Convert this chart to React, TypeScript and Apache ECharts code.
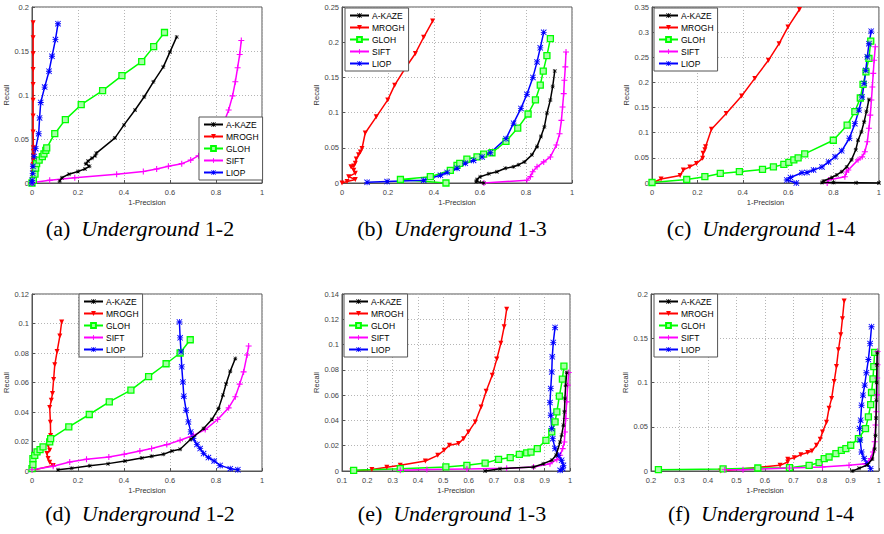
import React, { useEffect, useRef } from 'react';
import * as echarts from 'echarts';

// ---------- series names / colours ----------
const NAMES = ['A-KAZE', 'MROGH', 'GLOH', 'SIFT', 'LIOP'];
const COLORS = ['#000000', '#ff0000', '#00ff00', '#ff00ff', '#0000ff'];

// ---------- (a) Underground 1-2 ----------
const aAkaze = [[0.12,0.002],[0.13,0.006],[0.16,0.010],[0.20,0.013],[0.23,0.016],[0.25,0.019],[0.234,0.022],[0.244,0.025],[0.26,0.028],[0.275,0.031],[0.28,0.034],[0.36,0.051],[0.40,0.066],[0.448,0.083],[0.488,0.098],[0.528,0.115],[0.571,0.132],[0.600,0.149],[0.629,0.166]];
const aMrogh = [[0.002,0],[0.003,0.004],[0.004,0.008],[0.004,0.012],[0.005,0.016],[0.005,0.021],[0.006,0.026],[0.006,0.031],[0.006,0.036],[0.006,0.040],[0.005,0.058],[0.005,0.076],[0.005,0.094],[0.005,0.112],[0.005,0.129],[0.005,0.147],[0.005,0.165],[0.005,0.182]];
const aGloh = [[0,0],[0.006,0.003],[0.013,0.010],[0.016,0.017],[0.02,0.022],[0.031,0.026],[0.045,0.030],[0.052,0.033],[0.060,0.037],[0.064,0.040],[0.099,0.056],[0.145,0.072],[0.214,0.089],[0.307,0.105],[0.391,0.122],[0.477,0.138],[0.529,0.155],[0.576,0.171]];
const aSift = [[0,0],[0.004,0.0005],[0.077,0.003],[0.186,0.006],[0.368,0.010],[0.484,0.013],[0.542,0.016],[0.593,0.019],[0.651,0.022],[0.69,0.026],[0.724,0.031],[0.767,0.039],[0.804,0.053],[0.833,0.068],[0.855,0.083],[0.872,0.099],[0.884,0.115],[0.894,0.131],[0.903,0.146],[0.91,0.162]];
const aLiop = [[0,0],[0.001,0.003],[0.003,0.011],[0.004,0.019],[0.009,0.030],[0.016,0.039],[0.029,0.056],[0.033,0.074],[0.038,0.0915],[0.055,0.109],[0.074,0.127],[0.087,0.144],[0.102,0.163],[0.113,0.181]];

// ---------- (b) Underground 1-3 ----------
const bAkaze = [[0.616,0],[0.583,0.002],[0.587,0.005],[0.601,0.009],[0.638,0.013],[0.674,0.016],[0.710,0.021],[0.746,0.023],[0.768,0.026],[0.793,0.030],[0.826,0.040],[0.848,0.052],[0.865,0.066],[0.880,0.080],[0.891,0.099],[0.906,0.118],[0.916,0.137],[0.925,0.159]];
const bMrogh = [[0,0],[0.022,0.002],[0.058,0.005],[0.029,0.009],[0.058,0.014],[0.051,0.018],[0.039,0.023],[0.051,0.024],[0.058,0.028],[0.062,0.034],[0.072,0.040],[0.080,0.044],[0.087,0.049],[0.101,0.071],[0.149,0.094],[0.199,0.118],[0.229,0.139],[0.275,0.163],[0.319,0.184],[0.355,0.207],[0.394,0.230]];
const bGloh = [[0.452,0],[0.254,0.005],[0.384,0.009],[0.471,0.018],[0.5,0.025],[0.512,0.028],[0.543,0.034],[0.587,0.037],[0.616,0.041],[0.652,0.043],[0.713,0.059],[0.764,0.078],[0.809,0.098],[0.841,0.118],[0.862,0.139],[0.875,0.159],[0.891,0.181],[0.906,0.205]];
const bSift = [[0.617,0],[0.804,0.004],[0.819,0.009],[0.829,0.016],[0.848,0.023],[0.877,0.030],[0.906,0.037],[0.932,0.054],[0.946,0.070],[0.954,0.089],[0.959,0.108],[0.964,0.127],[0.967,0.146],[0.971,0.165],[0.974,0.186]];
const bLiop = [[0.109,0.001],[0.196,0.002],[0.355,0.004],[0.428,0.011],[0.457,0.015],[0.500,0.021],[0.536,0.028],[0.572,0.032],[0.609,0.037],[0.645,0.043],[0.713,0.063],[0.746,0.085],[0.778,0.106],[0.804,0.126],[0.830,0.150],[0.848,0.172],[0.862,0.192],[0.877,0.214]];

// ---------- (c) Underground 1-4 ----------
const cAkaze = [[1,0],[0.9,0.0005],[0.8,0.001],[0.749,0.001],[0.756,0.004],[0.792,0.011],[0.814,0.016],[0.836,0.0225],[0.858,0.032],[0.879,0.046],[0.898,0.066],[0.908,0.085],[0.923,0.102],[0.935,0.122],[0.945,0.142],[0.956,0.166]];
const cMrogh = [[0,0],[0.04,0.008],[0.124,0.015],[0.138,0.026],[0.167,0.032],[0.196,0.039],[0.223,0.049],[0.225,0.059],[0.233,0.066],[0.236,0.072],[0.262,0.107],[0.327,0.138],[0.395,0.173],[0.453,0.208],[0.513,0.244],[0.560,0.277],[0.599,0.310],[0.650,0.345]];
const cGloh = [[0,0.001],[0.153,0.007],[0.233,0.0125],[0.301,0.019],[0.385,0.0225],[0.487,0.027],[0.535,0.032],[0.581,0.037],[0.603,0.041],[0.625,0.046],[0.644,0.050],[0.673,0.058],[0.799,0.085],[0.860,0.115],[0.894,0.142],[0.918,0.169],[0.930,0.196],[0.943,0.221],[0.956,0.248],[0.964,0.282]];
const cSift = [[0.772,0],[0.778,0.006],[0.850,0.0125],[0.857,0.022],[0.865,0.026],[0.908,0.046],[0.926,0.052],[0.938,0.062],[0.949,0.082],[0.956,0.109],[0.962,0.135],[0.967,0.165],[0.971,0.191],[0.975,0.218],[0.979,0.244],[0.984,0.271]];
const cLiop = [[0.636,0],[0.594,0.006],[0.610,0.011],[0.661,0.0205],[0.683,0.021],[0.712,0.026],[0.749,0.032],[0.778,0.042],[0.807,0.052],[0.836,0.064],[0.870,0.089],[0.894,0.118],[0.912,0.145],[0.926,0.171],[0.935,0.198],[0.942,0.224],[0.949,0.251],[0.956,0.277],[0.966,0.302]];

// ---------- (d) Underground 1-2 ----------
const dAkaze = [[0.113,0.0009],[0.172,0.0018],[0.251,0.0036],[0.331,0.0050],[0.404,0.0068],[0.477,0.0088],[0.520,0.0100],[0.571,0.0113],[0.608,0.0136],[0.644,0.0147],[0.690,0.0215],[0.746,0.0288],[0.782,0.0349],[0.811,0.0423],[0.830,0.0514],[0.844,0.0591],[0.862,0.0677],[0.884,0.0763]];
const dMrogh = [[0.004,0.0005],[0.092,0.0038],[0.077,0.006],[0.070,0.0084],[0.065,0.0118],[0.077,0.014],[0.070,0.0174],[0.081,0.024],[0.080,0.033],[0.077,0.043],[0.084,0.048],[0.089,0.0525],[0.094,0.062],[0.099,0.072],[0.109,0.081],[0.121,0.0915],[0.129,0.101]];
const dGloh = [[0,0.0016],[0.004,0.0043],[0.004,0.0084],[0.012,0.0106],[0.022,0.0129],[0.035,0.0145],[0.048,0.0163],[0.077,0.0197],[0.081,0.022],[0.160,0.0299],[0.249,0.0383],[0.336,0.0469],[0.430,0.0548],[0.507,0.064],[0.583,0.0727],[0.644,0.080],[0.688,0.089]];
const dSift = [[0,0.0009],[0.092,0.0032],[0.164,0.0061],[0.237,0.0079],[0.334,0.0095],[0.401,0.0113],[0.469,0.0136],[0.520,0.0152],[0.586,0.0179],[0.644,0.0208],[0.702,0.0242],[0.753,0.0281],[0.807,0.0349],[0.855,0.0428],[0.884,0.0503],[0.903,0.0589],[0.920,0.0672],[0.935,0.0786],[0.942,0.0847]];
const dLiop = [[0.895,0.0009],[0.862,0.0016],[0.818,0.0038],[0.792,0.0068],[0.767,0.0091],[0.746,0.0118],[0.731,0.0152],[0.717,0.0179],[0.702,0.022],[0.690,0.0265],[0.680,0.0333],[0.670,0.0412],[0.660,0.0507],[0.656,0.0604],[0.651,0.0706],[0.648,0.0808],[0.644,0.0903],[0.641,0.101]];

// ---------- (e) Underground 1-3 ----------
const eAkaze = [[0.665,0],[0.724,0.0018],[0.856,0.0032],[0.895,0.0058],[0.928,0.0085],[0.945,0.0124],[0.961,0.023],[0.967,0.0283],[0.974,0.0362],[0.978,0.0468],[0.980,0.0573],[0.983,0.0679],[0.987,0.0779]];
const eMrogh = [[0.139,0],[0.218,0.0011],[0.277,0.0029],[0.330,0.0045],[0.429,0.0079],[0.478,0.0124],[0.503,0.0164],[0.524,0.0203],[0.560,0.0217],[0.580,0.0256],[0.599,0.0309],[0.626,0.0388],[0.649,0.0507],[0.669,0.0631],[0.693,0.0758],[0.711,0.0885],[0.727,0.101],[0.740,0.114],[0.750,0.128]];
const eGloh = [[0.146,0.0005],[0.330,0.0018],[0.510,0.0032],[0.593,0.0045],[0.665,0.0063],[0.718,0.0092],[0.764,0.0106],[0.800,0.0132],[0.829,0.0143],[0.846,0.015],[0.871,0.0177],[0.905,0.0243],[0.928,0.0309],[0.941,0.0388],[0.948,0.0468],[0.958,0.0592],[0.970,0.0726],[0.976,0.0829]];
const eSift = [[0.330,0.0005],[0.435,0.0011],[0.593,0.0016],[0.750,0.0021],[0.856,0.0032],[0.921,0.0058],[0.948,0.009],[0.961,0.0124],[0.971,0.0177],[0.978,0.023],[0.980,0.0309],[0.983,0.0415],[0.987,0.0547],[0.991,0.0679],[0.995,0.0779]];
const eLiop = [[0.961,0.0005],[0.971,0.0018],[0.974,0.0045],[0.967,0.0085],[0.954,0.0124],[0.941,0.0177],[0.932,0.0256],[0.928,0.0335],[0.924,0.0441],[0.921,0.0541],[0.924,0.0652],[0.928,0.0784],[0.930,0.0903],[0.934,0.1017],[0.941,0.1136]];

// ---------- (f) Underground 1-4 ----------
const fAkaze = [[0.907,0],[0.930,0.003],[0.959,0.0068],[0.977,0.0136],[0.985,0.025],[0.988,0.04],[0.990,0.06],[0.991,0.08],[0.992,0.1],[0.993,0.12],[0.994,0.134]];
const fMrogh = [[0.445,0],[0.653,0.0064],[0.680,0.0102],[0.680,0.0132],[0.703,0.015],[0.726,0.0185],[0.750,0.0208],[0.765,0.0226],[0.781,0.029],[0.794,0.036],[0.802,0.044],[0.816,0.055],[0.825,0.071],[0.834,0.082],[0.843,0.101],[0.851,0.118],[0.858,0.137],[0.866,0.154],[0.872,0.172],[0.878,0.192]];
const fGloh = [[0.226,0.0015],[0.453,0.0023],[0.575,0.0034],[0.686,0.0038],[0.755,0.0064],[0.790,0.0094],[0.808,0.014],[0.825,0.0158],[0.849,0.0196],[0.868,0.0234],[0.884,0.0253],[0.901,0.0291],[0.928,0.0366],[0.953,0.0479],[0.963,0.0611],[0.971,0.0751],[0.974,0.0887],[0.979,0.104],[0.982,0.118],[0.985,0.134]];
const fSift = [[0.459,0.0015],[0.523,0.0015],[0.686,0.0034],[0.802,0.0045],[0.895,0.0064],[0.953,0.0083],[0.971,0.014],[0.979,0.0215],[0.985,0.033],[0.988,0.052],[0.991,0.067],[0.993,0.086],[0.994,0.105],[0.995,0.120],[0.995,0.135]];
const fLiop = [[0.971,0.0026],[0.959,0.0083],[0.948,0.014],[0.939,0.0215],[0.934,0.035],[0.932,0.0479],[0.936,0.0574],[0.939,0.0743],[0.944,0.0857],[0.950,0.097],[0.956,0.111],[0.963,0.126],[0.969,0.144],[0.974,0.163]];

// ---------- axis ranges & captions ----------
const PANEL_IDS = ['(a)', '(b)', '(c)', '(d)', '(e)', '(f)'];
const PANEL_PAIRS = ['1-2', '1-3', '1-4', '1-2', '1-3', '1-4'];
const X_MIN = [0, 0, 0, 0, 0.1, 0.2];
const X_INT = [0.2, 0.2, 0.2, 0.2, 0.1, 0.1];
const Y_MAX = [0.2, 0.25, 0.35, 0.12, 0.14, 0.2];
const Y_INT = [0.05, 0.05, 0.05, 0.02, 0.02, 0.05];
const PANEL_DATA = [
  [aAkaze, aMrogh, aGloh, aSift, aLiop],
  [bAkaze, bMrogh, bGloh, bSift, bLiop],
  [cAkaze, cMrogh, cGloh, cSift, cLiop],
  [dAkaze, dMrogh, dGloh, dSift, dLiop],
  [eAkaze, eMrogh, eGloh, eSift, eLiop],
  [fAkaze, fMrogh, fGloh, fSift, fLiop],
];

// ---------- layout (pixels) ----------
const GRIDS = [
  { left: 32, top: 7, width: 230, height: 176 },
  { left: 342, top: 7, width: 230, height: 176 },
  { left: 652, top: 7, width: 229, height: 176 },
  { left: 32, top: 294, width: 230, height: 177 },
  { left: 342, top: 294, width: 228, height: 177 },
  { left: 651, top: 294, width: 229, height: 177 },
];
const LEGEND_POS = [
  { left: 199, top: 117 },
  { left: 345, top: 8 },
  { left: 654, top: 8 },
  { left: 79, top: 294 },
  { left: 344, top: 294 },
  { left: 654, top: 294 },
];
const CAPTION_POS = [
  { x: 140, y: 228 }, { x: 452, y: 228 }, { x: 761, y: 228 },
  { x: 140, y: 513 }, { x: 452, y: 513 }, { x: 761, y: 513 },
];

const SYM_STAR = 'path://M4.3,0H5.7V10H4.3Z M0,4.3H10V5.7H0Z M1,0L10,9L9,10L0,1Z M9,0L10,1L1,10L0,9Z';
const SYM_TRI = 'path://M0,0H10L5,10Z';
const SYM_PLUS = 'path://M4.1,0H5.9V10H4.1Z M0,4.1H10V5.9H0Z';
const SYMBOLS = [SYM_STAR, SYM_TRI, 'rect', SYM_PLUS, SYM_STAR];
const SYMBOL_SIZES = [4, 5, 6, 6, 6];
const MARKER_FILLS = ['#000000', '#ff0000', '#a6ffa6', '#ff00ff', '#0000ff'];

const SANS = 'Liberation Sans, Arial, sans-serif';
const SERIF = 'Liberation Serif, Times New Roman, serif';

function buildOption() {
  const grid: any[] = [];
  const xAxis: any[] = [];
  const yAxis: any[] = [];
  const legend: any[] = [];
  const series: any[] = [];
  const graphic: any[] = [];

  for (let i = 0; i < 6; i++) {
    grid.push({ ...GRIDS[i], show: true, borderColor: '#555', borderWidth: 1, backgroundColor: 'transparent' });
    const common = {
      gridIndex: i,
      type: 'value',
      nameLocation: 'middle',
      nameTextStyle: { fontSize: 7.5, color: '#333', fontFamily: SANS },
      axisLine: { show: true, onZero: false, lineStyle: { color: '#555', width: 1 } },
      axisTick: { show: true, inside: true, length: 3, lineStyle: { color: '#555' } },
      axisLabel: { fontSize: 7.5, color: '#444', fontFamily: SANS },
      splitLine: { show: true, lineStyle: { color: '#b5b5b5', type: [1, 2], width: 1 } },
    };
    xAxis.push({
      ...common,
      min: X_MIN[i], max: 1, interval: X_INT[i],
      name: '1-Precision', nameGap: 15,
      axisLabel: { ...common.axisLabel, margin: 5 },
    });
    yAxis.push({
      ...common,
      min: 0, max: Y_MAX[i], interval: Y_INT[i],
      name: 'Recall', nameGap: 20,
      axisLabel: { ...common.axisLabel, margin: 3 },
    });
    legend.push({
      data: NAMES,
      ...LEGEND_POS[i],
      orient: 'vertical',
      itemWidth: 19,
      itemHeight: 6,
      itemGap: 3,
      padding: [3, 4, 3, 4],
      backgroundColor: '#fff',
      borderColor: '#555',
      borderWidth: 1,
      borderRadius: 0,
      selectedMode: false,
      textStyle: { fontSize: 8.5, color: '#000', fontFamily: SANS, padding: [0, 0, 0, -2] },
      z: 10,
    });
    PANEL_DATA[i].forEach((d, k) => {
      series.push({
        type: 'line',
        name: NAMES[k],
        xAxisIndex: i,
        yAxisIndex: i,
        data: d,
        symbol: SYMBOLS[k],
        symbolSize: SYMBOL_SIZES[k],
        showSymbol: true,
        lineStyle: { color: COLORS[k], width: 1.5 },
        itemStyle: { color: MARKER_FILLS[k], borderColor: COLORS[k], borderWidth: k === 2 ? 1.3 : 0 },
        emphasis: { disabled: true },
        clip: true,
        z: 2 + (k === 0 ? 1 : 0),
      });
    });
    graphic.push({
      type: 'text',
      x: CAPTION_POS[i].x,
      y: CAPTION_POS[i].y,
      style: {
        text: PANEL_IDS[i] + '  {i|Underground} ' + PANEL_PAIRS[i],
        fill: '#000',
        fontFamily: SERIF,
        fontSize: 22,
        textAlign: 'center',
        textVerticalAlign: 'middle',
        rich: {
          i: { fontStyle: 'italic', fontFamily: SERIF, fontSize: 22, fill: '#000' },
        },
      },
    });
  }

  return {
    animation: false,
    backgroundColor: '#fff',
    grid, xAxis, yAxis, legend, series, graphic,
  };
}

export default function App() {
  const ref = useRef<HTMLDivElement>(null);
  useEffect(() => {
    if (!ref.current) return;
    const chart = echarts.init(ref.current, null, { renderer: 'svg', width: 884, height: 534 });
    chart.setOption(buildOption() as any);
    return () => chart.dispose();
  }, []);
  return (
    <div
      ref={ref}
      style={{ position: 'absolute', left: 0, top: 0, width: 884, height: 534, background: '#fff' }}
    />
  );
}
